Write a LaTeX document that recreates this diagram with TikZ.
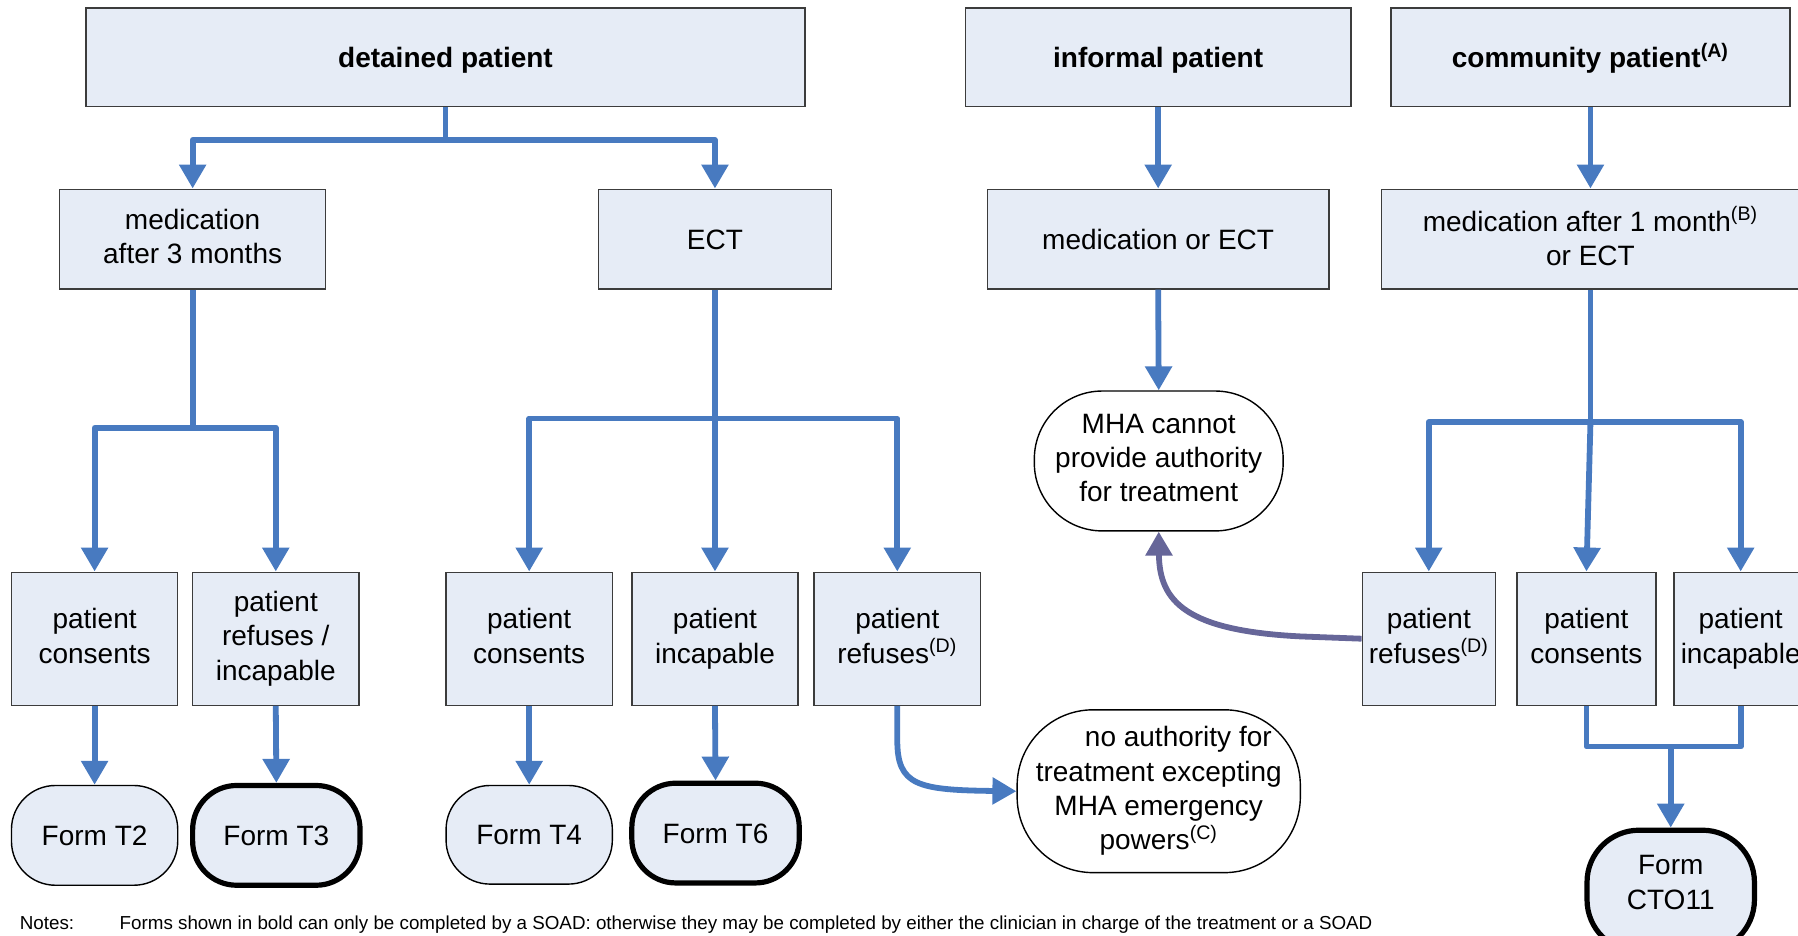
\documentclass[tikz,border=0pt]{standalone}
\usepackage{fontspec}
\setmainfont{Liberation Sans}
\usetikzlibrary{arrows.meta}
\definecolor{boxfill}{RGB}{230,236,246}
\definecolor{arrblue}{RGB}{72,122,192}
\definecolor{arrpurple}{RGB}{102,102,153}
\definecolor{boxline}{RGB}{60,60,60}
\newcommand{\txtstrut}{\rule[-3pt]{0pt}{16.2pt}}
\begin{document}
\begin{tikzpicture}[x=0.5734pt,y=-0.5734pt,
 wh/.style 2 args={minimum width=#1*0.5734pt,minimum height=#2*0.5734pt},
 base/.style={inner sep=0pt,align=center,font=\fontsize{14}{17.2}\selectfont,
   execute at begin node=\txtstrut, execute at end node=\txtstrut},
 box/.style={base,draw=boxline,line width=0.7pt,fill=boxfill},
 form/.style={base,draw=black,line width=0.7pt,fill=boxfill,rounded corners=22pt},
 boldform/.style={form,line width=2.6pt},
 oval/.style={base,draw=black,line width=0.7pt,fill=white},
 conn/.style={draw=arrblue,line width=2.9pt,line join=round},
 arr/.style={conn,-{Triangle[width=13pt,length=12pt]}},
 parr/.style={conn,draw=arrpurple,-{Triangle[width=13pt,length=12pt]}},
 note/.style={inner sep=0pt,anchor=base west,font=\fontsize{9.4}{11}\selectfont}
]
\useasboundingbox (0,0) rectangle (1568,816);

% top row
\node[box,wh={627}{86}] (det) at (388.5,50) {\textbf{detained patient}};
\node[box,wh={336}{86}] (inf) at (1010,50) {\textbf{informal patient}};
\node[box,wh={348}{86}] (com) at (1387,50) {\textbf{community patient\textsuperscript{(A)}}};

% second row
\node[box,wh={232}{87}] (med3) at (168,208.5) {medication\\after 3 months};
\node[box,wh={203}{87}] (ect) at (623.5,208.5) {ECT};
\node[box,wh={298}{87}] (medect) at (1010,208.5) {medication or ECT};
\node[box,wh={364}{87}] (med1) at (1387,208.5) {medication after 1 month\textsuperscript{(B)}\\or ECT};

% third row
\node[box,wh={145}{116}] (pc1) at (82.5,557) {patient\\consents};
\node[box,wh={145}{116}] (pri) at (240.5,557) {patient\\refuses /\\incapable};
\node[box,wh={145}{116}] (pc2) at (461.5,557) {patient\\consents};
\node[box,wh={145}{116}] (pi2) at (623.5,557) {patient\\incapable};
\node[box,wh={145}{116}] (pr2) at (782.5,557) {patient\\refuses\textsuperscript{(D)}};
\node[box,wh={116}{116}] (pr3) at (1246,557) {patient\\refuses\textsuperscript{(D)}};
\node[box,wh={121}{116}] (pc3) at (1383.5,557) {patient\\consents};
\node[box,wh={116}{116}] (pi3) at (1518,557) {patient\\incapable};

% ovals
\node[oval,wh={217}{122},rounded corners=34pt] (mha) at (1010.5,402) {MHA cannot\\provide authority\\for treatment};
\node[oval,wh={247}{142},rounded corners=38pt] (noauth) at (1010.5,690) {\hspace*{1.4em}no authority for\\treatment excepting\\MHA emergency\\powers\textsuperscript{(C)}};

% forms
\node[form,wh={145}{87}] (t2) at (82.5,728.5) {Form T2};
\node[boldform,wh={146}{87}] (t3) at (241,728.5) {Form T3};
\node[form,wh={145}{86}] (t4) at (461.5,728) {Form T4};
\node[boldform,wh={146}{87}] (t6) at (624,726.5) {Form T6};
\node[boldform,wh={146}{106},rounded corners=26pt] (cto) at (1457,777) {};
\node[base] (ctotext) at (1457,772) {Form\\CTO11};

% notes
\node[note] (notes) at (17,811) {Notes:};
\node[note] (notetext) at (104,811) {Forms shown in bold can only be completed by a SOAD: otherwise they may be completed by either the clinician in charge of the treatment or a SOAD};

% connectors: detained
\coordinate (dj) at (388.5,122);
\draw[conn] (det.south) -- (dj);
\draw[arr] (dj) -| (med3.north);
\draw[arr] (dj) -| (ect.north);
% informal, community
\draw[arr] (inf.south) -- (medect.north);
\draw[arr] (com.south) -- (med1.north);
\draw[arr] (medect.south) -- (mha.north);
% medication after 3 months
\coordinate (mj) at (168,373);
\draw[conn] (med3.south) -- (mj);
\draw[arr] (mj) -| (pc1.north);
\draw[arr] (mj) -| (pri.north);
% ECT
\coordinate (ej) at (623.5,365);
\draw[conn] (ect.south) -- (ej);
\draw[arr] (ej) -| (pc2.north);
\draw[arr] (ej) -- (pi2.north);
\draw[arr] (ej) -| (pr2.north);
% community medication
\coordinate (cj) at (1387,368);
\draw[conn] (med1.south) -- (cj);
\draw[arr] (cj) -| (pr3.north);
\draw[arr] (cj) -- (pc3.north);
\draw[arr] (cj) -| (pi3.north);
% to forms
\draw[arr] (pc1.south) -- (t2.north);
\draw[arr] (pri.south) -- (t3.north);
\draw[arr] (pc2.south) -- (t4.north);
\draw[arr] (pi2.south) -- (t6.north);
\draw[arr] (pr2.south) -- ++(0,30) .. controls (782.5,685) and (800,689) .. (noauth.west);
\draw[parr] (pr3.west) -- (1134,555) .. controls (1035,550) and (1011,525) .. (mha.south);
% CTO11
\coordinate (ctj) at (1457,651);
\draw[conn] (pc3.south) |- (ctj) -| (pi3.south);
\draw[arr] (ctj) -- (cto.north);
\end{tikzpicture}
\end{document}
